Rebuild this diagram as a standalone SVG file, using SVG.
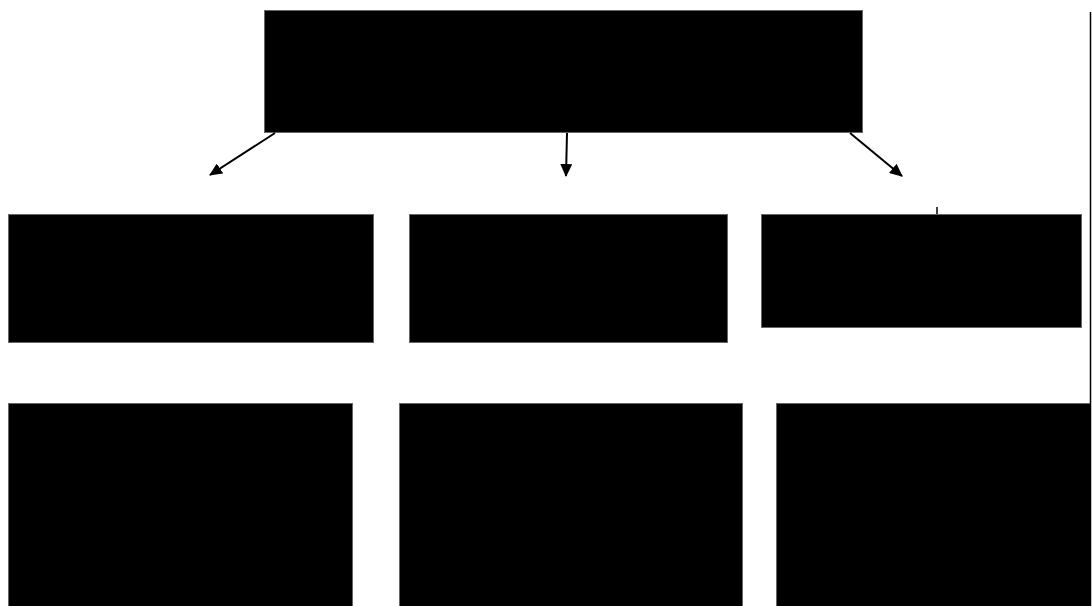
<svg xmlns="http://www.w3.org/2000/svg" width="1092" height="606" viewBox="0 0 1092 606">
<style>
.box{fill:#000;stroke:#666;stroke-width:1}
.con{stroke:#000;stroke-width:2;fill:none}
</style>
<defs>
<marker id="ah" markerWidth="14" markerHeight="12" refX="12" refY="6" orient="auto" markerUnits="userSpaceOnUse">
<path d="M0,0 L13,6 L0,12 z" fill="#000"/>
</marker>
</defs>
<rect width="1092" height="606" fill="#fff"/>
<g id="top"><rect class="box" x="264.5" y="10.5" width="598" height="122"/></g>
<g id="n1"><rect class="box" x="8.5" y="214.5" width="365" height="128"/></g>
<g id="n2"><rect class="box" x="409.5" y="214.5" width="318" height="128"/></g>
<g id="n3"><rect class="box" x="761.5" y="214.5" width="320" height="113"/></g>
<g id="n4"><rect class="box" x="8.5" y="403.5" width="344" height="210"/></g>
<g id="n5"><rect class="box" x="399.5" y="403.5" width="343" height="210"/></g>
<g id="n6"><rect class="box" x="776.5" y="403.5" width="314" height="210"/></g>
<g id="connectors">
<line class="con" x1="275" y1="133" x2="210" y2="175" marker-end="url(#ah)"/>
<line class="con" x1="567" y1="133" x2="566" y2="176" marker-end="url(#ah)"/>
<line class="con" x1="850" y1="133" x2="902" y2="176" marker-end="url(#ah)"/>
<line x1="937" y1="207" x2="937" y2="214" stroke="#000" stroke-width="1.5"/>
<line x1="1090.5" y1="12" x2="1090.5" y2="606" stroke="#000" stroke-width="1.5"/>
</g>
</svg>
